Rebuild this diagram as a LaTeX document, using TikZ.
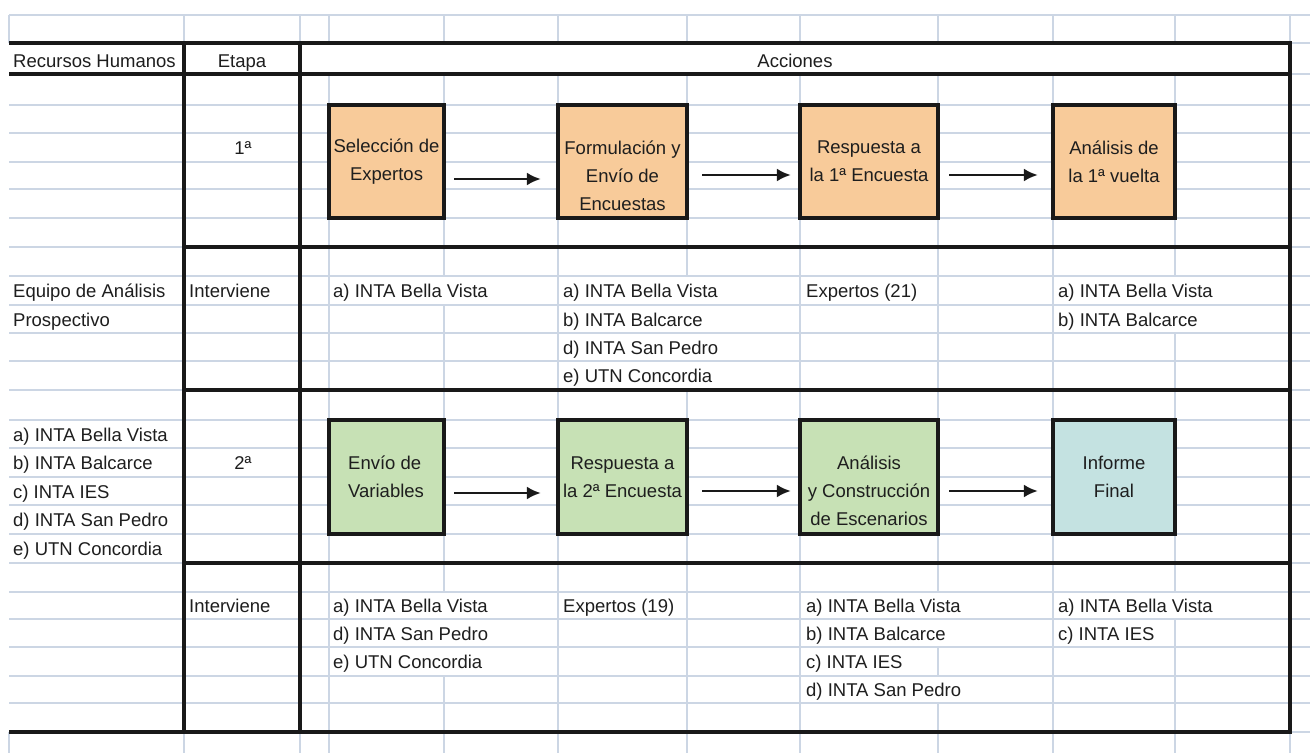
\documentclass[tikz,border=0pt]{standalone}
\usepackage{fontspec}
\setmainfont{Liberation Sans}
\usetikzlibrary{arrows.meta}
\definecolor{gridc}{RGB}{204,214,228}
\definecolor{orangef}{RGB}{248,203,154}
\definecolor{greenf}{RGB}{199,225,181}
\definecolor{tealf}{RGB}{196,226,225}
\definecolor{ink}{RGB}{30,30,30}
\newcommand\cellfont{\fontsize{18.5}{28}\selectfont}
\begin{document}
\begin{tikzpicture}[x=1pt,y=-1pt,
  light/.style={draw=gridc,line width=2.2pt},
  heavy/.style={draw=black!90,line width=4.5pt},
  heavyv/.style={draw=black!90,line width=4.5pt,line cap=rect},
  cell/.style={anchor=base west,fill=white,inner xsep=1pt,inner ysep=0pt,
    text height=21.5pt,text depth=7pt,font=\cellfont,text=ink},
  ccell/.style={anchor=base,inner sep=0pt,font=\cellfont,text=ink},
  box/.style={draw=black!90,line width=4.2pt,inner sep=0pt},
  btext/.style={align=center,font=\cellfont,text=ink,inner sep=0pt},
  arr/.style={draw=black!90,line width=2.8pt,-{Latex[length=14pt,width=13pt]}}
]
\useasboundingbox (0,0) rectangle (1310,753);
\fill[white] (0,0) rectangle (1310,753);

% light vertical grid lines
\foreach \x in {9,184,300,329,444,558,687,800,938,1053,1175,1290} {
  \draw[light] (\x,15) -- (\x,43);
  \draw[light] (\x,732) -- (\x,753);
}
\foreach \x in {329,444,558,687,800,938,1053,1175}
  \draw[light] (\x,74) -- (\x,732);

% cell texts
\node[cell] (rh) at (12,67.5) {Recursos Humanos};
\node[ccell] (et) at (242,67.5) {Etapa};
\node[ccell] (ac) at (795,67.5) {Acciones};

\node[ccell] (e1) at (243,154.5) {1ª};
\node[ccell] (e2) at (243,469.5) {2ª};

\node[cell] (eq1) at (12,297.5) {Equipo de Análisis};
\node[cell] (eq2) at (12,326) {Prospectivo};
\node[cell] (in1) at (188,297.5) {Interviene};
\node[cell] (p1a) at (332,297.5) {a) INTA Bella Vista};
\node[cell] (p2a) at (562,297.5) {a) INTA Bella Vista};
\node[cell] (p2b) at (562,326) {b) INTA Balcarce};
\node[cell] (p2d) at (562,354) {d) INTA San Pedro};
\node[cell] (p2e) at (562,382.5) {e) UTN Concordia};
\node[cell] (p3) at (805,297.5) {Expertos (21)};
\node[cell] (p4a) at (1057,297.5) {a) INTA Bella Vista};
\node[cell] (p4b) at (1057,326) {b) INTA Balcarce};

\node[cell] (la) at (12,441) {a) INTA Bella Vista};
\node[cell] (lb) at (12,469.5) {b) INTA Balcarce};
\node[cell] (lc) at (12,498) {c) INTA IES};
\node[cell] (ld) at (12,526.5) {d) INTA San Pedro};
\node[cell] (le) at (12,555.5) {e) UTN Concordia};

\node[cell] (in2) at (188,612.5) {Interviene};
\node[cell] (q1a) at (332,612.5) {a) INTA Bella Vista};
\node[cell] (q1d) at (332,640) {d) INTA San Pedro};
\node[cell] (q1e) at (332,668.5) {e) UTN Concordia};
\node[cell] (q2) at (562,612.5) {Expertos (19)};
\node[cell] (q3a) at (805,612.5) {a) INTA Bella Vista};
\node[cell] (q3b) at (805,640) {b) INTA Balcarce};
\node[cell] (q3c) at (805,668.5) {c) INTA IES};
\node[cell] (q3d) at (805,696.5) {d) INTA San Pedro};
\node[cell] (q4a) at (1057,612.5) {a) INTA Bella Vista};
\node[cell] (q4c) at (1057,640) {c) INTA IES};

% light horizontal grid lines
\foreach \y in {15,43,74,105,133,162,189,218,247,276,305,333,361,390,420,448,477,505,534,563,592,619,647,676,703,732}
  \draw[light] (9,\y) -- (1310,\y);

% heavy frame lines
\draw[heavy] (9,43) -- (1290,43);
\draw[heavy] (9,74) -- (1290,74);
\draw[heavy] (9,732) -- (1290,732);
\draw[heavy] (184,247) -- (1290,247);
\draw[heavy] (184,390) -- (1290,390);
\draw[heavy] (184,563) -- (1290,563);
\draw[heavyv] (184,43) -- (184,732);
\draw[heavyv] (300,43) -- (300,732);
\draw[heavyv] (1290,43) -- (1290,732);

% boxes, stage 1
\node[box,fill=orangef,minimum width=115pt,minimum height=113pt] (b1) at (386.5,161.5) {};
\node[box,fill=orangef,minimum width=129pt,minimum height=113pt] (b2) at (622.5,161.5) {};
\node[box,fill=orangef,minimum width=138pt,minimum height=113pt] (b3) at (869,161.5) {};
\node[box,fill=orangef,minimum width=122pt,minimum height=113pt] (b4) at (1114,161.5) {};
% boxes, stage 2
\node[box,fill=greenf,minimum width=115pt,minimum height=114pt] (b5) at (386.5,477) {};
\node[box,fill=greenf,minimum width=129pt,minimum height=114pt] (b6) at (622.5,477) {};
\node[box,fill=greenf,minimum width=138pt,minimum height=114pt] (b7) at (869,477) {};
\node[box,fill=tealf,minimum width=122pt,minimum height=114pt] (b8) at (1114,477) {};

% box texts
\node[btext] (t1) at (b1.center) {Selección de\\Expertos};
\node[btext] (t2) at ([yshift=-14pt]b2.center) {Formulación y\\Envío de\\Encuestas};
\node[btext] (t3) at (b3.center) {Respuesta a\\la 1ª Encuesta};
\node[btext] (t4) at (b4.center) {Análisis de\\la 1ª vuelta};
\node[btext,align=left,anchor=west] (t5) at (348,477) {Envío de\\Variables};
\node[btext] (t6) at (b6.center) {Respuesta a\\la 2ª Encuesta};
\node[btext] (t7) at ([yshift=-14pt]b7.center) {Análisis\\y Construcción\\de Escenarios};
\node[btext] (t8) at (b8.center) {Informe\\Final};

% arrows
\draw[arr] ([shift={(8,17.5)}]b1.east) -- ([shift={(-15,17.5)}]b2.west);
\draw[arr] ([shift={(13,13.5)}]b2.east) -- ([shift={(-7,13.5)}]b3.west);
\draw[arr] ([shift={(9,13.5)}]b3.east) -- ([shift={(-13,13.5)}]b4.west);
\draw[arr] ([shift={(8,16)}]b5.east) -- ([shift={(-15,16)}]b6.west);
\draw[arr] ([shift={(13,14)}]b6.east) -- ([shift={(-7,14)}]b7.west);
\draw[arr] ([shift={(9,14)}]b7.east) -- ([shift={(-13,14)}]b8.west);
\end{tikzpicture}
\end{document}
